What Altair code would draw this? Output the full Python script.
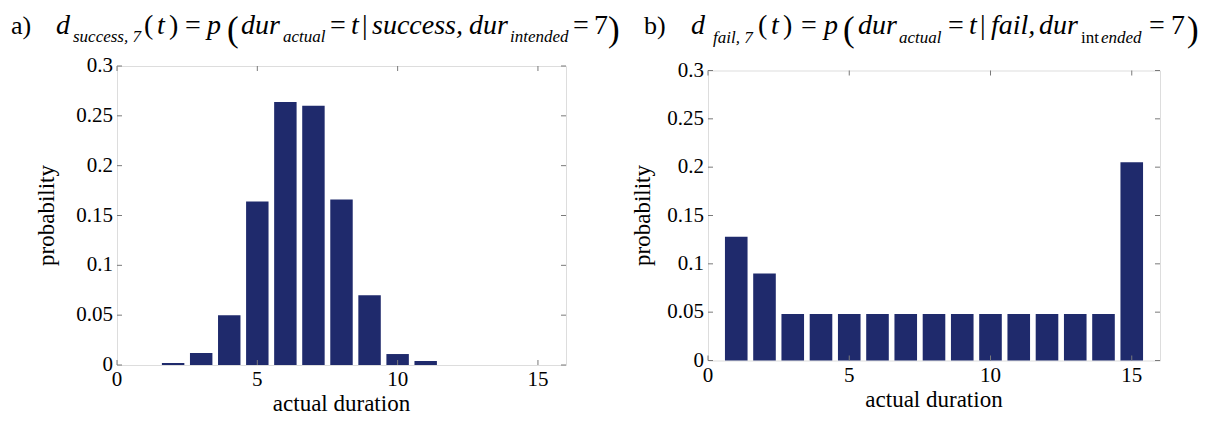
import altair as alt
import pandas as pd

# ---------------- data ----------------
durations = list(range(1, 16))
prob_success = [0.0, 0.002, 0.012, 0.050, 0.164, 0.264, 0.260, 0.166, 0.070, 0.011, 0.004, 0.0, 0.0, 0.0, 0.0]
prob_fail = [0.128, 0.090, 0.048, 0.048, 0.048, 0.048, 0.048, 0.048, 0.048, 0.048, 0.048, 0.048, 0.048, 0.048, 0.205]
x_ticks = [0, 5, 10, 15]
x_tick_labels = ["0", "5", "10", "15"]
y_ticks = [0, 0.05, 0.1, 0.15, 0.2, 0.25, 0.3]
y_tick_labels = ["0", "0.05", "0.1", "0.15", "0.2", "0.25", "0.3"]
x_title = "actual duration"
y_title = "probability"

SERIF = "Liberation Serif"
BAR = "#1f2a6c"
BOX = "#7a7a7a"
HALF = 0.4  # bar half width (MATLAB default 0.8 width)

MAIN, SUB, BIG, LAB = 28, 17, 35, 26
TICK_FS, TITLE_FS = 21, 23


def seg(text, x, y, size, italic, angle=0, align="left", baseline="alphabetic"):
    return alt.Chart(alt.Data(values=[{}])).mark_text(
        text=text, font=SERIF, fontSize=size,
        fontStyle="italic" if italic else "normal",
        align=align, baseline=baseline, color="black", angle=angle,
    ).encode(x=alt.value(x), y=alt.value(y))


def title_layers(parts, ox, oy, base, subbase, bigbase):
    layers = []
    for text, px, kind in parts:
        if kind == "lab":
            layers.append(seg(text, px - ox, base - oy, LAB, False))
        elif kind == "it":
            layers.append(seg(text, px - ox, base - oy, MAIN, True))
        elif kind == "rm":
            layers.append(seg(text, px - ox, base - oy, MAIN, False))
        elif kind == "sub":
            layers.append(seg(text, px - ox, subbase - oy, SUB, True))
        elif kind == "subrm":
            layers.append(seg(text, px - ox, subbase - oy, SUB, False))
        elif kind == "big":
            layers.append(seg(text, px - ox, bigbase - oy, BIG, False))
    return layers


def panel(ps, W, H, lab_pad, ytitle_x, parts, ox, oy, base, subbase, bigbase):
    df = pd.DataFrame({"t": durations, "p": ps})
    xs = alt.Scale(domain=[0, 16], nice=False, zero=False)
    ys = alt.Scale(domain=[0, 0.3], nice=False)
    bars = alt.Chart(df).transform_calculate(
        x0=f"datum.t - {HALF}", x1=f"datum.t + {HALF}"
    ).mark_bar(color=BAR).encode(
        x=alt.X("x0:Q", scale=xs, axis=None),
        x2="x1:Q",
        y=alt.Y("p:Q", scale=ys, axis=None),
        y2=alt.datum(0),
    )
    xt = pd.DataFrame({"v": x_ticks, "lab": x_tick_labels})
    yt = pd.DataFrame({"v": y_ticks, "lab": y_tick_labels})
    tb = alt.Chart(xt).mark_rule(color=BOX, strokeWidth=1).encode(
        x=alt.X("v:Q", scale=xs, axis=None), y=alt.value(H), y2=alt.value(H - 5))
    tt = alt.Chart(xt).mark_rule(color=BOX, strokeWidth=1).encode(
        x=alt.X("v:Q", scale=xs, axis=None), y=alt.value(0), y2=alt.value(5))
    tl = alt.Chart(yt).mark_rule(color=BOX, strokeWidth=1).encode(
        y=alt.Y("v:Q", scale=ys, axis=None), x=alt.value(0), x2=alt.value(5))
    tr = alt.Chart(yt).mark_rule(color=BOX, strokeWidth=1).encode(
        y=alt.Y("v:Q", scale=ys, axis=None), x=alt.value(W - 5), x2=alt.value(W))
    xl = alt.Chart(xt).mark_text(
        font=SERIF, fontSize=TICK_FS, color="black", align="center", baseline="top"
    ).encode(x=alt.X("v:Q", scale=xs, axis=None), y=alt.value(H + 4), text="lab:N")
    yl = alt.Chart(yt).mark_text(
        font=SERIF, fontSize=TICK_FS, color="black", align="right", baseline="middle"
    ).encode(y=alt.Y("v:Q", scale=ys, axis=None), x=alt.value(-lab_pad), text="lab:N")
    xtl = seg(x_title, W / 2, H + 46, TITLE_FS, False, align="center")
    ytl = seg(y_title, ytitle_x, H / 2, TITLE_FS, False, angle=270, align="center",
              baseline="middle")
    layers = [bars, tb, tt, tl, tr, xl, yl, xtl, ytl] + title_layers(
        parts, ox, oy, base, subbase, bigbase)
    return alt.layer(*layers).properties(width=W, height=H)


parts_a = [
    ("a)", 10, "lab"),
    ("d", 55, "it"),
    ("success, 7", 72, "sub"),
    ("(", 143, "rm"), ("t", 156, "it"), (")", 168, "rm"),
    ("=", 184, "rm"),
    ("p", 206, "it"),
    ("(", 226, "big"),
    ("dur", 240, "it"),
    ("actual", 282, "sub"),
    ("=", 329, "rm"),
    ("t", 350, "it"),
    ("|", 361, "rm"),
    ("success,", 371, "it"),
    ("dur", 468, "it"),
    ("intended", 509, "sub"),
    ("=", 572, "rm"),
    ("7", 593, "rm"),
    (")", 607, "big"),
]

parts_b = [
    ("b)", 643, "lab"),
    ("d", 690, "it"),
    ("fail, 7", 712, "sub"),
    ("(", 757, "rm"), ("t", 770, "it"), (")", 782, "rm"),
    ("=", 800, "rm"),
    ("p", 823, "it"),
    ("(", 842, "big"),
    ("dur", 857, "it"),
    ("actual", 898, "sub"),
    ("=", 947, "rm"),
    ("t", 968, "it"),
    ("|", 979, "rm"),
    ("fail,", 990, "it"),
    ("dur", 1038, "it"),
    ("int", 1080, "subrm"),
    ("ended", 1100, "sub"),
    ("=", 1148, "rm"),
    ("7", 1170, "rm"),
    (")", 1186, "big"),
]

A_LEFT, A_TOP, A_W, A_H = 116, 65, 449, 299
B_W, B_H = 452, 290
B_LEFT = 707
B_TOP = A_TOP + (A_H - B_H) / 2

pa = panel(prob_success, A_W, A_H, 4, -70, parts_a, A_LEFT, A_TOP, 33, 41, 40)
pb = panel(prob_fail, B_W, B_H, 4, -65, parts_b, B_LEFT, B_TOP, 33, 42, 40)

chart = alt.hconcat(pa, pb, spacing=B_LEFT - A_LEFT - A_W, bounds="flush", center=True).properties(
    padding={"left": 2, "top": 3, "right": 0, "bottom": 0},
).configure_view(stroke=BOX, strokeWidth=1).configure(font=SERIF)

chart.save("out.html", embed_options={"renderer": "svg", "actions": False})
